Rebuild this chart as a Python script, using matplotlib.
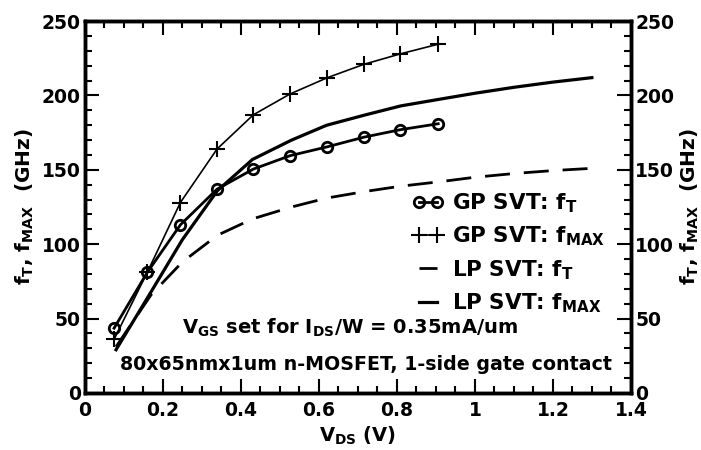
import matplotlib.pyplot as plt
from matplotlib.ticker import MultipleLocator

plt.rcParams['font.family'] = ['DejaVu Sans']
plt.rcParams['font.weight'] = 'bold'
plt.rcParams['axes.labelweight'] = 'bold'
plt.rcParams['mathtext.fontset'] = 'custom'
plt.rcParams['mathtext.rm'] = 'DejaVu Sans:bold'
plt.rcParams['mathtext.it'] = 'DejaVu Sans:bold'
plt.rcParams['mathtext.bf'] = 'DejaVu Sans:bold'

# GP SVT (measured points)
vds_gp = [0.075, 0.16, 0.245, 0.339, 0.432, 0.526, 0.622, 0.716, 0.809, 0.906]
ft_gp = [43.5, 81, 113, 137, 150.5, 159.5, 165.5, 172, 177, 181]
fmax_gp = [36, 81, 128, 164, 187, 201, 212, 221, 228, 234.5]

# LP SVT
vds_lp = [0.08, 0.17, 0.25, 0.34, 0.43, 0.53, 0.62, 0.72, 0.81, 0.91, 1.0, 1.1, 1.2, 1.3]
ft_lp = [31, 66, 88, 106, 117, 125, 131, 135.5, 139, 142, 145, 147.5, 149.5, 151]
fmax_lp = [29, 68, 103, 136, 157, 170, 180, 187, 193, 197.5, 201.5, 205.5, 209, 212]

yticks = [0, 50, 100, 150, 200, 250]
ylab = r'f$_\mathrm{T}$, f$_\mathrm{MAX}$  (GHz)'

fig = plt.figure(figsize=(7.01, 4.5), dpi=100)
ax = fig.add_axes([0.121, 0.127, 0.779, 0.826])

ax.plot(vds_gp, ft_gp, color='black', lw=2, marker='o', ms=7.5, mfc='none',
        mew=2, label=r'GP SVT: f$_\mathrm{T}$')
ax.plot(vds_gp, fmax_gp, color='black', lw=1.2, marker='+', ms=12,
        mew=1.5, label=r'GP SVT: f$_\mathrm{MAX}$')
ax.plot(vds_lp, ft_lp, color='black', lw=2, dashes=(9, 5),
        label=r'LP SVT: f$_\mathrm{T}$')
ax.plot(vds_lp, fmax_lp, color='black', lw=2.3,
        label=r'LP SVT: f$_\mathrm{MAX}$')

ax.set_xlim(0, 1.4)
ax.set_ylim(0, 250)
ax.set_xticks([0, 0.2, 0.4, 0.6, 0.8, 1.0, 1.2, 1.4])
ax.set_xticklabels(['0', '0.2', '0.4', '0.6', '0.8', '1', '1.2', '1.4'])
ax.xaxis.set_minor_locator(MultipleLocator(0.05))
ax.set_yticks(yticks)
ax.yaxis.set_minor_locator(MultipleLocator(10))

ax2 = ax.twinx()
ax2.set_ylim(0, 250)
ax2.set_yticks(yticks)
ax2.yaxis.set_minor_locator(MultipleLocator(10))

for a in (ax, ax2):
    a.tick_params(which='both', direction='in', labelsize=13.5, width=1.5, pad=3)
    a.tick_params(which='major', length=10)
    a.tick_params(which='minor', length=5)
    for s in a.spines.values():
        s.set_linewidth(2.5)
ax.tick_params(which='both', top=True)
ax.tick_params(axis='x', pad=6)

ax.set_xlabel(r'V$_\mathrm{DS}$ (V)', fontsize=14, labelpad=3)
ax.set_ylabel(ylab, fontsize=14.5, labelpad=4)
ax2.set_ylabel(ylab, fontsize=14.5, labelpad=3)

ax.text(0.25, 44, r'V$_\mathrm{GS}$ set for I$_\mathrm{DS}$/W = 0.35mA/um', fontsize=14,
        va='center')
ax.text(0.09, 19, '80x65nmx1um n-MOSFET, 1-side gate contact', fontsize=13.7,
        va='center')

leg = ax.legend(loc='upper left', bbox_to_anchor=(0.585, 0.565), frameon=False,
                numpoints=2, handlelength=1.4, handletextpad=0.4,
                labelspacing=0.45, fontsize=15.5, borderaxespad=0)

fig.savefig('out.png', dpi=100)
